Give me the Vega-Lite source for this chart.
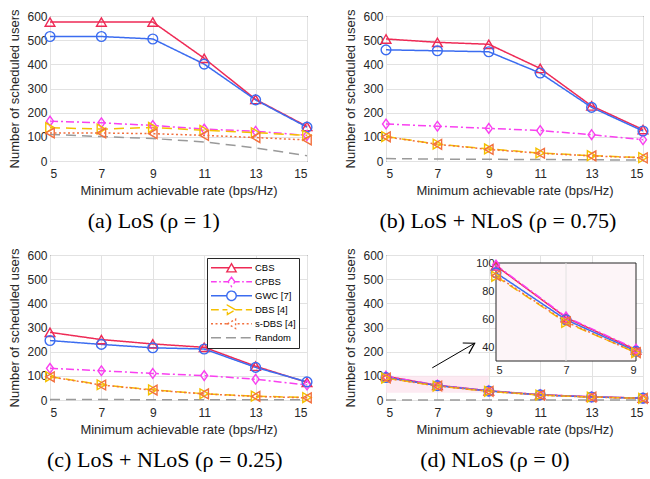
{
  "$schema": "https://vega.github.io/schema/vega-lite/v6.json",
  "background": "white",
  "padding": {"left": 8, "top": 8, "right": 0, "bottom": 0},
  "config": {
    "font": "Liberation Sans",
    "view": {"stroke": "#262626", "strokeWidth": 1},
    "axis": {
      "grid": true, "gridColor": "#e2e2e2", "gridWidth": 1,
      "ticks": false, "domain": false,
      "labelFont": "Liberation Sans", "labelFontSize": 12, "labelColor": "#262626",
      "titleFont": "Liberation Sans", "titleFontSize": 13, "titleFontWeight": "normal", "titleColor": "#262626"
    },
    "axisX": {"labelPadding": 7, "titlePadding": 5},
    "axisY": {"labelPadding": 3, "titlePadding": 5},
    "title": {"orient": "bottom", "anchor": "middle", "frame": "bounds", "font": "Liberation Serif", "fontSize": 22, "fontWeight": "normal", "color": "#000000", "offset": 14}
  },
  "datasets": {
    "rows": [
      {"panel": "a", "method": "CBS", "rate": 5, "users": 575}, {"panel": "a", "method": "CBS", "rate": 7, "users": 575}, {"panel": "a", "method": "CBS", "rate": 9, "users": 575}, {"panel": "a", "method": "CBS", "rate": 11, "users": 425}, {"panel": "a", "method": "CBS", "rate": 13, "users": 255}, {"panel": "a", "method": "CBS", "rate": 15, "users": 143},
      {"panel": "a", "method": "CPBS", "rate": 5, "users": 165}, {"panel": "a", "method": "CPBS", "rate": 7, "users": 158}, {"panel": "a", "method": "CPBS", "rate": 9, "users": 147}, {"panel": "a", "method": "CPBS", "rate": 11, "users": 132}, {"panel": "a", "method": "CPBS", "rate": 13, "users": 123}, {"panel": "a", "method": "CPBS", "rate": 15, "users": 106},
      {"panel": "a", "method": "GWC [7]", "rate": 5, "users": 515}, {"panel": "a", "method": "GWC [7]", "rate": 7, "users": 515}, {"panel": "a", "method": "GWC [7]", "rate": 9, "users": 505}, {"panel": "a", "method": "GWC [7]", "rate": 11, "users": 401}, {"panel": "a", "method": "GWC [7]", "rate": 13, "users": 253}, {"panel": "a", "method": "GWC [7]", "rate": 15, "users": 140},
      {"panel": "a", "method": "DBS [4]", "rate": 5, "users": 138}, {"panel": "a", "method": "DBS [4]", "rate": 7, "users": 132}, {"panel": "a", "method": "DBS [4]", "rate": 9, "users": 139}, {"panel": "a", "method": "DBS [4]", "rate": 11, "users": 127}, {"panel": "a", "method": "DBS [4]", "rate": 13, "users": 117}, {"panel": "a", "method": "DBS [4]", "rate": 15, "users": 106},
      {"panel": "a", "method": "s-DBS [4]", "rate": 5, "users": 116}, {"panel": "a", "method": "s-DBS [4]", "rate": 7, "users": 116}, {"panel": "a", "method": "s-DBS [4]", "rate": 9, "users": 113}, {"panel": "a", "method": "s-DBS [4]", "rate": 11, "users": 106}, {"panel": "a", "method": "s-DBS [4]", "rate": 13, "users": 97}, {"panel": "a", "method": "s-DBS [4]", "rate": 15, "users": 87},
      {"panel": "a", "method": "Random", "rate": 5, "users": 110}, {"panel": "a", "method": "Random", "rate": 7, "users": 101}, {"panel": "a", "method": "Random", "rate": 9, "users": 93}, {"panel": "a", "method": "Random", "rate": 11, "users": 79}, {"panel": "a", "method": "Random", "rate": 13, "users": 54}, {"panel": "a", "method": "Random", "rate": 15, "users": 22},

      {"panel": "b", "method": "CBS", "rate": 5, "users": 505}, {"panel": "b", "method": "CBS", "rate": 7, "users": 491}, {"panel": "b", "method": "CBS", "rate": 9, "users": 483}, {"panel": "b", "method": "CBS", "rate": 11, "users": 383}, {"panel": "b", "method": "CBS", "rate": 13, "users": 228}, {"panel": "b", "method": "CBS", "rate": 15, "users": 130},
      {"panel": "b", "method": "CPBS", "rate": 5, "users": 153}, {"panel": "b", "method": "CPBS", "rate": 7, "users": 144}, {"panel": "b", "method": "CPBS", "rate": 9, "users": 135}, {"panel": "b", "method": "CPBS", "rate": 11, "users": 126}, {"panel": "b", "method": "CPBS", "rate": 13, "users": 109}, {"panel": "b", "method": "CPBS", "rate": 15, "users": 88},
      {"panel": "b", "method": "GWC [7]", "rate": 5, "users": 460}, {"panel": "b", "method": "GWC [7]", "rate": 7, "users": 456}, {"panel": "b", "method": "GWC [7]", "rate": 9, "users": 452}, {"panel": "b", "method": "GWC [7]", "rate": 11, "users": 364}, {"panel": "b", "method": "GWC [7]", "rate": 13, "users": 222}, {"panel": "b", "method": "GWC [7]", "rate": 15, "users": 124},
      {"panel": "b", "method": "DBS [4]", "rate": 5, "users": 101}, {"panel": "b", "method": "DBS [4]", "rate": 7, "users": 70}, {"panel": "b", "method": "DBS [4]", "rate": 9, "users": 50}, {"panel": "b", "method": "DBS [4]", "rate": 11, "users": 33}, {"panel": "b", "method": "DBS [4]", "rate": 13, "users": 22}, {"panel": "b", "method": "DBS [4]", "rate": 15, "users": 14},
      {"panel": "b", "method": "s-DBS [4]", "rate": 5, "users": 100}, {"panel": "b", "method": "s-DBS [4]", "rate": 7, "users": 69}, {"panel": "b", "method": "s-DBS [4]", "rate": 9, "users": 48}, {"panel": "b", "method": "s-DBS [4]", "rate": 11, "users": 32}, {"panel": "b", "method": "s-DBS [4]", "rate": 13, "users": 21}, {"panel": "b", "method": "s-DBS [4]", "rate": 15, "users": 13},
      {"panel": "b", "method": "Random", "rate": 5, "users": 10}, {"panel": "b", "method": "Random", "rate": 7, "users": 8}, {"panel": "b", "method": "Random", "rate": 9, "users": 7}, {"panel": "b", "method": "Random", "rate": 11, "users": 6}, {"panel": "b", "method": "Random", "rate": 13, "users": 5}, {"panel": "b", "method": "Random", "rate": 15, "users": 4},

      {"panel": "c", "method": "CBS", "rate": 5, "users": 280}, {"panel": "c", "method": "CBS", "rate": 7, "users": 250}, {"panel": "c", "method": "CBS", "rate": 9, "users": 232}, {"panel": "c", "method": "CBS", "rate": 11, "users": 218}, {"panel": "c", "method": "CBS", "rate": 13, "users": 140}, {"panel": "c", "method": "CBS", "rate": 15, "users": 73},
      {"panel": "c", "method": "CPBS", "rate": 5, "users": 131}, {"panel": "c", "method": "CPBS", "rate": 7, "users": 121}, {"panel": "c", "method": "CPBS", "rate": 9, "users": 110}, {"panel": "c", "method": "CPBS", "rate": 11, "users": 101}, {"panel": "c", "method": "CPBS", "rate": 13, "users": 86}, {"panel": "c", "method": "CPBS", "rate": 15, "users": 62},
      {"panel": "c", "method": "GWC [7]", "rate": 5, "users": 246}, {"panel": "c", "method": "GWC [7]", "rate": 7, "users": 230}, {"panel": "c", "method": "GWC [7]", "rate": 9, "users": 216}, {"panel": "c", "method": "GWC [7]", "rate": 11, "users": 211}, {"panel": "c", "method": "GWC [7]", "rate": 13, "users": 135}, {"panel": "c", "method": "GWC [7]", "rate": 15, "users": 75},
      {"panel": "c", "method": "DBS [4]", "rate": 5, "users": 97}, {"panel": "c", "method": "DBS [4]", "rate": 7, "users": 63}, {"panel": "c", "method": "DBS [4]", "rate": 9, "users": 42}, {"panel": "c", "method": "DBS [4]", "rate": 11, "users": 26}, {"panel": "c", "method": "DBS [4]", "rate": 13, "users": 16}, {"panel": "c", "method": "DBS [4]", "rate": 15, "users": 10},
      {"panel": "c", "method": "s-DBS [4]", "rate": 5, "users": 96}, {"panel": "c", "method": "s-DBS [4]", "rate": 7, "users": 62}, {"panel": "c", "method": "s-DBS [4]", "rate": 9, "users": 41}, {"panel": "c", "method": "s-DBS [4]", "rate": 11, "users": 25}, {"panel": "c", "method": "s-DBS [4]", "rate": 13, "users": 15}, {"panel": "c", "method": "s-DBS [4]", "rate": 15, "users": 9},
      {"panel": "c", "method": "Random", "rate": 5, "users": 2}, {"panel": "c", "method": "Random", "rate": 7, "users": 2}, {"panel": "c", "method": "Random", "rate": 9, "users": 1}, {"panel": "c", "method": "Random", "rate": 11, "users": 1}, {"panel": "c", "method": "Random", "rate": 13, "users": 1}, {"panel": "c", "method": "Random", "rate": 15, "users": 1},

      {"panel": "d", "method": "CBS", "rate": 5, "users": 98}, {"panel": "d", "method": "CBS", "rate": 7, "users": 61}, {"panel": "d", "method": "CBS", "rate": 9, "users": 38}, {"panel": "d", "method": "CBS", "rate": 11, "users": 22}, {"panel": "d", "method": "CBS", "rate": 13, "users": 13}, {"panel": "d", "method": "CBS", "rate": 15, "users": 8},
      {"panel": "d", "method": "CPBS", "rate": 5, "users": 98.5}, {"panel": "d", "method": "CPBS", "rate": 7, "users": 61.5}, {"panel": "d", "method": "CPBS", "rate": 9, "users": 38.5}, {"panel": "d", "method": "CPBS", "rate": 11, "users": 22}, {"panel": "d", "method": "CPBS", "rate": 13, "users": 13}, {"panel": "d", "method": "CPBS", "rate": 15, "users": 8},
      {"panel": "d", "method": "GWC [7]", "rate": 5, "users": 93}, {"panel": "d", "method": "GWC [7]", "rate": 7, "users": 59.5}, {"panel": "d", "method": "GWC [7]", "rate": 9, "users": 37}, {"panel": "d", "method": "GWC [7]", "rate": 11, "users": 21}, {"panel": "d", "method": "GWC [7]", "rate": 13, "users": 12.5}, {"panel": "d", "method": "GWC [7]", "rate": 15, "users": 7.5},
      {"panel": "d", "method": "DBS [4]", "rate": 5, "users": 90.5}, {"panel": "d", "method": "DBS [4]", "rate": 7, "users": 57.5}, {"panel": "d", "method": "DBS [4]", "rate": 9, "users": 36}, {"panel": "d", "method": "DBS [4]", "rate": 11, "users": 20.5}, {"panel": "d", "method": "DBS [4]", "rate": 13, "users": 12}, {"panel": "d", "method": "DBS [4]", "rate": 15, "users": 7},
      {"panel": "d", "method": "s-DBS [4]", "rate": 5, "users": 91}, {"panel": "d", "method": "s-DBS [4]", "rate": 7, "users": 58}, {"panel": "d", "method": "s-DBS [4]", "rate": 9, "users": 36}, {"panel": "d", "method": "s-DBS [4]", "rate": 11, "users": 20.5}, {"panel": "d", "method": "s-DBS [4]", "rate": 13, "users": 12}, {"panel": "d", "method": "s-DBS [4]", "rate": 15, "users": 7},
      {"panel": "d", "method": "Random", "rate": 5, "users": 0}, {"panel": "d", "method": "Random", "rate": 7, "users": 0}, {"panel": "d", "method": "Random", "rate": 9, "users": 0}, {"panel": "d", "method": "Random", "rate": 11, "users": 0}, {"panel": "d", "method": "Random", "rate": 13, "users": 0}, {"panel": "d", "method": "Random", "rate": 15, "users": 0}
    ]
  },
  "columns": 2,
  "spacing": {"row": 94, "column": 79},
  "bounds": "flush",
  "resolve": {"scale": {"color": "independent", "shape": "independent", "strokeDash": "independent"}, "legend": {"color": "independent", "shape": "independent", "strokeDash": "independent"}},
  "concat": [
    {
      "width": 257, "height": 145,
      "title": {"text": "(a) LoS (ρ = 1)", "dx": -8},
      "data": {"name": "rows"},
      "transform": [{"filter": "datum.panel === 'a'"}],
      "encoding": {
        "x": {"field": "rate", "type": "quantitative", "scale": {"domain": [5, 15]}, "axis": {"values": [5, 7, 9, 11, 13, 15], "title": "Minimum achievable rate (bps/Hz)"}},
        "y": {"field": "users", "type": "quantitative", "scale": {"domain": [0, 600]}, "axis": {"values": [0, 100, 200, 300, 400, 500, 600], "title": "Number of scheduled users"}},
        "color": {"field": "method", "type": "nominal", "scale": {"domain": ["CBS", "CPBS", "GWC [7]", "DBS [4]", "s-DBS [4]", "Random"], "range": ["#EE2A55", "#F940F0", "#3B6CF0", "#F5C000", "#F2703E", "#9A9A9A"]}, "legend": null}
      },
      "layer": [
        {"mark": {"type": "line", "strokeWidth": 1.5}, "encoding": {"strokeDash": {"field": "method", "type": "nominal", "scale": {"domain": ["CBS", "CPBS", "GWC [7]", "DBS [4]", "s-DBS [4]", "Random"], "range": [[1, 0], [8, 3, 2, 3], [1, 0], [10, 6], [2, 2.5], [10, 6]]}, "legend": null}}},
        {"transform": [{"filter": "datum.method !== 'Random'"}], "mark": {"type": "point", "filled": false, "size": 95, "strokeWidth": 1.4, "opacity": 1}, "encoding": {"shape": {"field": "method", "type": "nominal", "scale": {"domain": ["CBS", "CPBS", "GWC [7]", "DBS [4]", "s-DBS [4]"], "range": ["triangle-up", "M0,-1L0.72,0L0,1L-0.72,0Z", "circle", "triangle-right", "triangle-left"]}, "legend": null}}}
      ]
    },
    {
      "width": 257, "height": 145,
      "title": {"text": "(b) LoS + NLoS (ρ = 0.75)"},
      "data": {"name": "rows"},
      "transform": [{"filter": "datum.panel === 'b'"}],
      "encoding": {
        "x": {"field": "rate", "type": "quantitative", "scale": {"domain": [5, 15]}, "axis": {"values": [5, 7, 9, 11, 13, 15], "title": "Minimum achievable rate (bps/Hz)"}},
        "y": {"field": "users", "type": "quantitative", "scale": {"domain": [0, 600]}, "axis": {"values": [0, 100, 200, 300, 400, 500, 600], "title": "Number of scheduled users"}},
        "color": {"field": "method", "type": "nominal", "scale": {"domain": ["CBS", "CPBS", "GWC [7]", "DBS [4]", "s-DBS [4]", "Random"], "range": ["#EE2A55", "#F940F0", "#3B6CF0", "#F5C000", "#F2703E", "#9A9A9A"]}, "legend": null}
      },
      "layer": [
        {"mark": {"type": "line", "strokeWidth": 1.5}, "encoding": {"strokeDash": {"field": "method", "type": "nominal", "scale": {"domain": ["CBS", "CPBS", "GWC [7]", "DBS [4]", "s-DBS [4]", "Random"], "range": [[1, 0], [8, 3, 2, 3], [1, 0], [10, 6], [2, 2.5], [10, 6]]}, "legend": null}}},
        {"transform": [{"filter": "datum.method !== 'Random'"}], "mark": {"type": "point", "filled": false, "size": 95, "strokeWidth": 1.4, "opacity": 1}, "encoding": {"shape": {"field": "method", "type": "nominal", "scale": {"domain": ["CBS", "CPBS", "GWC [7]", "DBS [4]", "s-DBS [4]"], "range": ["triangle-up", "M0,-1L0.72,0L0,1L-0.72,0Z", "circle", "triangle-right", "triangle-left"]}, "legend": null}}}
      ]
    },
    {
      "width": 257, "height": 145,
      "title": {"text": "(c) LoS + NLoS (ρ = 0.25)", "dx": 3},
      "data": {"name": "rows"},
      "transform": [{"filter": "datum.panel === 'c'"}],
      "encoding": {
        "x": {"field": "rate", "type": "quantitative", "scale": {"domain": [5, 15]}, "axis": {"values": [5, 7, 9, 11, 13, 15], "title": "Minimum achievable rate (bps/Hz)"}},
        "y": {"field": "users", "type": "quantitative", "scale": {"domain": [0, 600]}, "axis": {"values": [0, 100, 200, 300, 400, 500, 600], "title": "Number of scheduled users"}},
        "color": {
          "field": "method", "type": "nominal",
          "scale": {"domain": ["CBS", "CPBS", "GWC [7]", "DBS [4]", "s-DBS [4]", "Random"], "range": ["#EE2A55", "#F940F0", "#3B6CF0", "#F5C000", "#F2703E", "#9A9A9A"]},
          "legend": {
            "orient": "none", "legendX": 157, "legendY": 3,
            "title": null, "padding": 3, "rowPadding": 0, "clipHeight": 13.6,
            "symbolSize": 1681, "symbolStrokeWidth": 1.4, "symbolOffset": 0,
            "labelFont": "Liberation Sans", "labelFontSize": 9.5, "labelColor": "#000000", "labelOffset": 2,
            "strokeColor": "#262626", "fillColor": "#ffffff",
            "encode": {
              "symbols": {
                "update": {
                  "shape": {"signal": "datum.value === 'CBS' ? 'M-1,0H-0.115M0.115,0H1M0,-0.2L0.23,0.2L-0.23,0.2Z' : datum.value === 'CPBS' ? 'M-1,0H-0.72M-0.6,0H-0.52M-0.4,0H-0.166M0.166,0H0.4M0.52,0H0.6M0.72,0H1M0,-0.23L0.166,0L0,0.23L-0.166,0Z' : datum.value === 'GWC [7]' ? 'M-1,0H-0.23M0.23,0H1M0.23,0A0.23,0.23,0,1,1,-0.23,0A0.23,0.23,0,1,1,0.23,0Z' : datum.value === 'DBS [4]' ? 'M-1,0H-0.62M-0.44,0H-0.2M0.2,0H0.52M0.7,0H1M0.2,0L-0.2,-0.23L-0.2,0.23Z' : datum.value === 's-DBS [4]' ? 'M-1,0H-0.9M-0.78,0H-0.68M-0.56,0H-0.46M-0.34,0H-0.24M0.3,0H0.4M0.52,0H0.62M0.74,0H0.84M0.96,0H1M-0.2,0L0.2,-0.23L0.2,0.23Z' : 'M-1,0H-0.45M-0.27,0H0.27M0.45,0H1'"},
                  "stroke": {"signal": "datum.value === 'CBS' ? '#EE2A55' : datum.value === 'CPBS' ? '#F940F0' : datum.value === 'GWC [7]' ? '#3B6CF0' : datum.value === 'DBS [4]' ? '#F5C000' : datum.value === 's-DBS [4]' ? '#F2703E' : '#9A9A9A'"},
                  "fill": {"value": "transparent"},
                  "strokeDash": {"value": []},
                  "strokeWidth": {"value": 1.4},
                  "opacity": {"value": 1}
                }
              }
            }
          }
        }
      },
      "layer": [
        {"mark": {"type": "line", "strokeWidth": 1.5}, "encoding": {"strokeDash": {"field": "method", "type": "nominal", "scale": {"domain": ["CBS", "CPBS", "GWC [7]", "DBS [4]", "s-DBS [4]", "Random"], "range": [[1, 0], [8, 3, 2, 3], [1, 0], [10, 6], [2, 2.5], [10, 6]]}, "legend": null}}},
        {"transform": [{"filter": "datum.method !== 'Random'"}], "mark": {"type": "point", "filled": false, "size": 95, "strokeWidth": 1.4, "opacity": 1}, "encoding": {"shape": {"field": "method", "type": "nominal", "scale": {"domain": ["CBS", "CPBS", "GWC [7]", "DBS [4]", "s-DBS [4]"], "range": ["triangle-up", "M0,-1L0.72,0L0,1L-0.72,0Z", "circle", "triangle-right", "triangle-left"]}, "legend": null}}}
      ]
    },
    {
      "width": 257, "height": 145,
      "title": {"text": "(d) NLoS (ρ = 0)", "dx": -3},
      "resolve": {"scale": {"x": "independent", "y": "independent"}, "axis": {"x": "independent", "y": "independent"}},
      "layer": [
        {
          "layer": [
            {
              "data": {"values": [{}]},
              "mark": {"type": "rect", "fill": "#fce3ed", "fillOpacity": 0.75},
              "encoding": {
                "x": {"datum": 5, "type": "quantitative", "scale": {"domain": [5, 15]}, "axis": {"values": [5, 7, 9, 11, 13, 15], "title": "Minimum achievable rate (bps/Hz)"}},
                "x2": {"datum": 9},
                "y": {"datum": 30, "type": "quantitative", "scale": {"domain": [0, 600]}, "axis": {"values": [0, 100, 200, 300, 400, 500, 600], "title": "Number of scheduled users"}},
                "y2": {"datum": 100}
              }
            },
            {
              "data": {"name": "rows"},
              "transform": [{"filter": "datum.panel === 'd'"}],
              "mark": {"type": "line", "strokeWidth": 1.5},
              "encoding": {
                "x": {"field": "rate", "type": "quantitative", "scale": {"domain": [5, 15]}, "axis": {"values": [5, 7, 9, 11, 13, 15], "title": "Minimum achievable rate (bps/Hz)"}},
                "y": {"field": "users", "type": "quantitative", "scale": {"domain": [0, 600]}, "axis": {"values": [0, 100, 200, 300, 400, 500, 600], "title": "Number of scheduled users"}},
                "color": {"field": "method", "type": "nominal", "scale": {"domain": ["CBS", "CPBS", "GWC [7]", "DBS [4]", "s-DBS [4]", "Random"], "range": ["#EE2A55", "#F940F0", "#3B6CF0", "#F5C000", "#F2703E", "#9A9A9A"]}, "legend": null},
                "strokeDash": {"field": "method", "type": "nominal", "scale": {"domain": ["CBS", "CPBS", "GWC [7]", "DBS [4]", "s-DBS [4]", "Random"], "range": [[1, 0], [8, 3, 2, 3], [1, 0], [10, 6], [2, 2.5], [10, 6]]}, "legend": null}
              }
            },
            {
              "data": {"name": "rows"},
              "transform": [{"filter": "datum.panel === 'd' && datum.method !== 'Random'"}],
              "mark": {"type": "point", "filled": false, "size": 95, "strokeWidth": 1.4, "opacity": 1},
              "encoding": {
                "x": {"field": "rate", "type": "quantitative", "scale": {"domain": [5, 15]}, "axis": {"values": [5, 7, 9, 11, 13, 15], "title": "Minimum achievable rate (bps/Hz)"}},
                "y": {"field": "users", "type": "quantitative", "scale": {"domain": [0, 600]}, "axis": {"values": [0, 100, 200, 300, 400, 500, 600], "title": "Number of scheduled users"}},
                "color": {"field": "method", "type": "nominal", "scale": {"domain": ["CBS", "CPBS", "GWC [7]", "DBS [4]", "s-DBS [4]", "Random"], "range": ["#EE2A55", "#F940F0", "#3B6CF0", "#F5C000", "#F2703E", "#9A9A9A"]}, "legend": null},
                "shape": {"field": "method", "type": "nominal", "scale": {"domain": ["CBS", "CPBS", "GWC [7]", "DBS [4]", "s-DBS [4]"], "range": ["triangle-up", "M0,-1L0.72,0L0,1L-0.72,0Z", "circle", "triangle-right", "triangle-left"]}, "legend": null}
              }
            },
            {
              "data": {"values": [{}]},
              "mark": {"type": "rule", "color": "#000000", "strokeWidth": 1},
              "encoding": {
                "x": {"datum": 6.8, "type": "quantitative", "scale": {"domain": [5, 15]}, "axis": {"values": [5, 7, 9, 11, 13, 15], "title": "Minimum achievable rate (bps/Hz)"}},
                "x2": {"datum": 8.45},
                "y": {"datum": 133, "type": "quantitative", "scale": {"domain": [0, 600]}, "axis": {"values": [0, 100, 200, 300, 400, 500, 600], "title": "Number of scheduled users"}},
                "y2": {"datum": 235}
              }
            },
            {
              "data": {"values": [{}]},
              "mark": {"type": "point", "shape": "M-1,-0.6L0,0L-1,0.6", "size": 420, "angle": 330, "filled": false, "stroke": "#000000", "strokeWidth": 1.2, "opacity": 1},
              "encoding": {
                "x": {"datum": 8.45, "type": "quantitative", "scale": {"domain": [5, 15]}, "axis": {"values": [5, 7, 9, 11, 13, 15], "title": "Minimum achievable rate (bps/Hz)"}},
                "y": {"datum": 235, "type": "quantitative", "scale": {"domain": [0, 600]}, "axis": {"values": [0, 100, 200, 300, 400, 500, 600], "title": "Number of scheduled users"}}
              }
            }
          ]
        },
        {
          "layer": [
            {
              "data": {"values": [{}]},
              "mark": {"type": "rect", "fill": "#fdf5f8", "stroke": "#262626", "strokeWidth": 1},
              "encoding": {
                "x": {"datum": 5, "type": "quantitative", "scale": {"domain": [5, 9], "range": [110, 250]}, "axis": {"orient": "bottom", "offset": -39, "values": [5, 7, 9], "format": "d", "title": null, "grid": false, "labelFontSize": 11, "labelPadding": 3}},
                "x2": {"datum": 9},
                "y": {"datum": 30, "type": "quantitative", "scale": {"domain": [30, 100], "range": [106, 8]}, "axis": {"orient": "left", "offset": -110, "values": [40, 60, 80, 100], "format": "d", "title": null, "grid": false, "labelFontSize": 11, "labelPadding": 2}},
                "y2": {"datum": 100}
              }
            },
            {
              "data": {"values": [{}]},
              "mark": {"type": "rule", "color": "#e2e2e2", "strokeWidth": 1},
              "encoding": {
                "x": {"datum": 7, "type": "quantitative", "scale": {"domain": [5, 9], "range": [110, 250]}, "axis": {"orient": "bottom", "offset": -39, "values": [5, 7, 9], "format": "d", "title": null, "grid": false, "labelFontSize": 11, "labelPadding": 3}},
                "y": {"datum": 30, "type": "quantitative", "scale": {"domain": [30, 100], "range": [106, 8]}, "axis": {"orient": "left", "offset": -110, "values": [40, 60, 80, 100], "format": "d", "title": null, "grid": false, "labelFontSize": 11, "labelPadding": 2}},
                "y2": {"datum": 100}
              }
            },
            {
              "data": {"name": "rows"},
              "transform": [{"filter": "datum.panel === 'd' && datum.rate <= 9 && datum.method !== 'Random'"}],
              "mark": {"type": "line", "strokeWidth": 1.5},
              "encoding": {
                "x": {"field": "rate", "type": "quantitative", "scale": {"domain": [5, 9], "range": [110, 250]}, "axis": {"orient": "bottom", "offset": -39, "values": [5, 7, 9], "format": "d", "title": null, "grid": false, "labelFontSize": 11, "labelPadding": 3}},
                "y": {"field": "users", "type": "quantitative", "scale": {"domain": [30, 100], "range": [106, 8]}, "axis": {"orient": "left", "offset": -110, "values": [40, 60, 80, 100], "format": "d", "title": null, "grid": false, "labelFontSize": 11, "labelPadding": 2}},
                "color": {"field": "method", "type": "nominal", "scale": {"domain": ["CBS", "CPBS", "GWC [7]", "DBS [4]", "s-DBS [4]", "Random"], "range": ["#EE2A55", "#F940F0", "#3B6CF0", "#F5C000", "#F2703E", "#9A9A9A"]}, "legend": null},
                "strokeDash": {"field": "method", "type": "nominal", "scale": {"domain": ["CBS", "CPBS", "GWC [7]", "DBS [4]", "s-DBS [4]", "Random"], "range": [[1, 0], [8, 3, 2, 3], [1, 0], [10, 6], [2, 2.5], [10, 6]]}, "legend": null}
              }
            },
            {
              "data": {"name": "rows"},
              "transform": [{"filter": "datum.panel === 'd' && datum.rate <= 9 && datum.method !== 'Random'"}],
              "mark": {"type": "point", "filled": false, "size": 95, "strokeWidth": 1.4, "opacity": 1},
              "encoding": {
                "x": {"field": "rate", "type": "quantitative", "scale": {"domain": [5, 9], "range": [110, 250]}, "axis": {"orient": "bottom", "offset": -39, "values": [5, 7, 9], "format": "d", "title": null, "grid": false, "labelFontSize": 11, "labelPadding": 3}},
                "y": {"field": "users", "type": "quantitative", "scale": {"domain": [30, 100], "range": [106, 8]}, "axis": {"orient": "left", "offset": -110, "values": [40, 60, 80, 100], "format": "d", "title": null, "grid": false, "labelFontSize": 11, "labelPadding": 2}},
                "color": {"field": "method", "type": "nominal", "scale": {"domain": ["CBS", "CPBS", "GWC [7]", "DBS [4]", "s-DBS [4]", "Random"], "range": ["#EE2A55", "#F940F0", "#3B6CF0", "#F5C000", "#F2703E", "#9A9A9A"]}, "legend": null},
                "shape": {"field": "method", "type": "nominal", "scale": {"domain": ["CBS", "CPBS", "GWC [7]", "DBS [4]", "s-DBS [4]"], "range": ["triangle-up", "M0,-1L0.72,0L0,1L-0.72,0Z", "circle", "triangle-right", "triangle-left"]}, "legend": null}
              }
            }
          ]
        }
      ]
    }
  ]
}
